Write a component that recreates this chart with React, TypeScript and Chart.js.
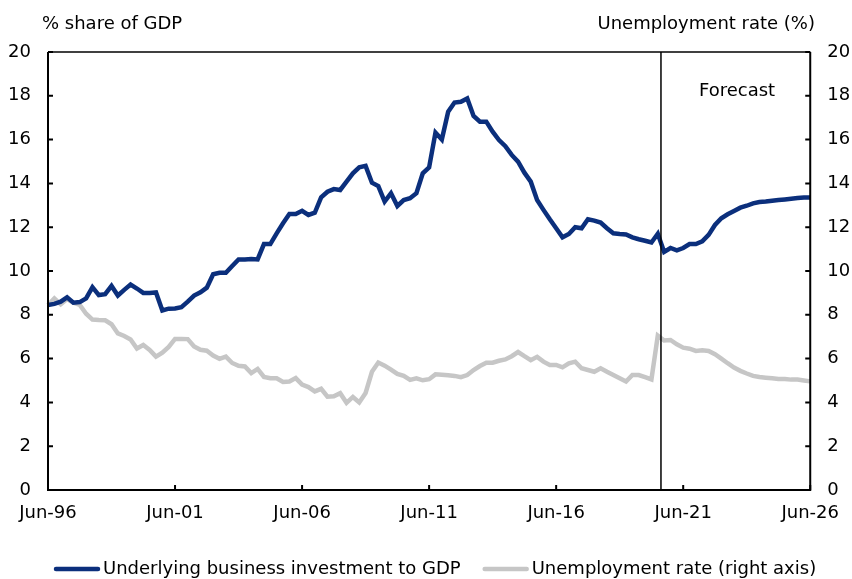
import React, { useEffect, useRef } from 'react';
import { Chart, registerables } from 'chart.js';

Chart.register(...registerables);

const FONT = '"DejaVu Sans", Verdana, sans-serif';
const BLUE = '#0b2f7c';
const GREY = '#c6c6c6';

// quarterly categories Jun-96 .. Jun-26
const months = ['Mar', 'Jun', 'Sep', 'Dec'];
const quarters: string[] = [];
for (let y = 1996; y <= 2026; y++) {
  for (const m of months) {
    if (y === 1996 && m === 'Mar') continue;
    if (y === 2026 && (m === 'Sep' || m === 'Dec')) continue;
    quarters.push(`${m}-${String(y % 100).padStart(2, '0')}`);
  }
}

const lastActual = 'Jun-20';
const firstForecast = 'Sep-20';

// % share of GDP
const investment = [
  8.45, 8.5, 8.6, 8.8, 8.55, 8.58, 8.75, 9.26, 8.9, 8.94,
  9.32, 8.88, 9.14, 9.38, 9.2, 9.0, 9.0, 9.02, 8.2, 8.28,
  8.29, 8.35, 8.6, 8.88, 9.03, 9.24, 9.85, 9.92, 9.92, 10.23,
  10.53, 10.53, 10.55, 10.53, 11.23, 11.23, 11.72, 12.18, 12.6, 12.6,
  12.75, 12.56, 12.66, 13.36, 13.62, 13.74, 13.7, 14.08, 14.46, 14.73,
  14.8, 14.03, 13.88, 13.17, 13.55, 12.97, 13.24, 13.32, 13.55, 14.46,
  14.73, 16.32, 16.0, 17.27, 17.69, 17.73, 17.88, 17.08, 16.82, 16.82,
  16.36, 15.98, 15.7, 15.3, 14.99, 14.49, 14.08, 13.24, 12.79, 12.36,
  11.95, 11.54, 11.69, 12.0, 11.95, 12.36, 12.3, 12.21, 11.95, 11.72,
  11.69, 11.67, 11.54, 11.45, 11.38, 11.3, 11.7, 10.87, 11.05, 10.94,
  11.05, 11.23, 11.23, 11.35, 11.65, 12.1, 12.41, 12.59, 12.74, 12.89,
  12.98, 13.09, 13.15, 13.17, 13.21, 13.24, 13.27, 13.3, 13.33, 13.36,
  13.36,
];

// unemployment rate, %
const unemployment = [
  8.45, 8.75, 8.48, 8.72, 8.55, 8.45, 8.05, 7.78, 7.76, 7.75,
  7.57, 7.15, 7.03, 6.87, 6.46, 6.62, 6.4, 6.09, 6.27, 6.53,
  6.9, 6.9, 6.89, 6.55, 6.4, 6.36, 6.14, 5.99, 6.09, 5.8,
  5.67, 5.64, 5.34, 5.53, 5.16, 5.1, 5.1, 4.93, 4.95, 5.11,
  4.81, 4.7, 4.5, 4.62, 4.26, 4.28, 4.42, 3.98, 4.25, 4.0,
  4.43, 5.4, 5.82, 5.68, 5.5, 5.3, 5.21, 5.03, 5.1, 5.01,
  5.06, 5.28, 5.26, 5.24, 5.21, 5.15, 5.25, 5.48, 5.66, 5.81,
  5.81, 5.9, 5.96, 6.11, 6.3, 6.11, 5.93, 6.08, 5.86, 5.71,
  5.71, 5.6, 5.78, 5.86, 5.56, 5.48, 5.4, 5.56, 5.4, 5.25,
  5.1, 4.95, 5.25, 5.25, 5.15, 5.05, 7.05, 6.83, 6.85, 6.65,
  6.5, 6.45, 6.35, 6.38, 6.35, 6.2, 6.0, 5.79, 5.59, 5.44,
  5.32, 5.21, 5.16, 5.13, 5.1, 5.07, 5.07, 5.04, 5.04, 5.0,
  4.96,
];

const seriesLabels = ['Underlying business investment to GDP', 'Unemployment rate (right axis)'];

// draws the box, inward ticks, forecast divider, axis titles and legend
const decorations = {
  id: 'decorations',
  afterDatasetsDraw(chart: any) {
    const { ctx, chartArea: a, scales } = chart;
    ctx.save();
    ctx.strokeStyle = '#000';

    // forecast divider
    const fx = (scales.x.getPixelForValue(quarters.indexOf(lastActual)) +
      scales.x.getPixelForValue(quarters.indexOf(firstForecast))) / 2;
    ctx.lineWidth = 1.5;
    ctx.beginPath();
    ctx.moveTo(fx, a.top);
    ctx.lineTo(fx, a.bottom);
    ctx.stroke();

    // frame
    ctx.lineWidth = 1.5;
    ctx.beginPath();
    ctx.moveTo(a.left, a.top);
    ctx.lineTo(a.right, a.top);
    ctx.stroke();
    ctx.lineWidth = 2;
    ctx.beginPath();
    ctx.moveTo(a.left, a.top);
    ctx.lineTo(a.left, a.bottom);
    ctx.lineTo(a.right, a.bottom);
    ctx.lineTo(a.right, a.top);
    ctx.stroke();

    // inward tick marks
    const tl = 5;
    ctx.beginPath();
    scales.y.ticks.forEach((t: any) => {
      const py = scales.y.getPixelForValue(t.value);
      ctx.moveTo(a.left, py);
      ctx.lineTo(a.left + tl, py);
    });
    scales.y1.ticks.forEach((t: any) => {
      const py = scales.y1.getPixelForValue(t.value);
      ctx.moveTo(a.right, py);
      ctx.lineTo(a.right - tl, py);
    });
    scales.x.ticks.forEach((t: any) => {
      const px = scales.x.getPixelForValue(t.value);
      ctx.moveTo(px, a.bottom);
      ctx.lineTo(px, a.bottom - tl);
    });
    ctx.stroke();

    // text
    ctx.fillStyle = '#000';
    ctx.font = `18px ${FONT}`;
    ctx.textBaseline = 'alphabetic';
    ctx.textAlign = 'left';
    ctx.fillText('% share of GDP', 42, 29);
    ctx.fillText('Forecast', 699, 96);
    ctx.textAlign = 'right';
    ctx.fillText('Unemployment rate (%)', 815, 29);

    // legend
    const colors = [BLUE, GREY];
    const swatchW = 46;
    const gap = 3;
    const itemGap = 22;
    let x = 54;
    const ly = 569;
    ctx.textAlign = 'left';
    ctx.textBaseline = 'middle';
    seriesLabels.forEach((l, i) => {
      ctx.strokeStyle = colors[i];
      ctx.lineWidth = 4.5;
      ctx.lineCap = 'round';
      ctx.beginPath();
      ctx.moveTo(x + 2, ly);
      ctx.lineTo(x + swatchW - 2, ly);
      ctx.stroke();
      ctx.fillText(l, x + swatchW + gap, ly);
      x += swatchW + gap + ctx.measureText(l).width + itemGap;
    });
    ctx.restore();
  },
};

const App: React.FC = () => {
  const canvasRef = useRef<HTMLCanvasElement>(null);
  const chartInstance = useRef<Chart | null>(null);

  useEffect(() => {
    if (!canvasRef.current) return;
    if (chartInstance.current) chartInstance.current.destroy();

    const tickFont = { family: FONT, size: 18 };

    chartInstance.current = new Chart(canvasRef.current, {
      type: 'line',
      data: {
        labels: quarters,
        datasets: [
          {
            label: seriesLabels[0],
            data: investment,
            borderColor: BLUE,
            borderWidth: 4.5,
            pointRadius: 0,
            tension: 0,
            yAxisID: 'y',
          },
          {
            label: seriesLabels[1],
            data: unemployment,
            borderColor: GREY,
            borderWidth: 4.5,
            pointRadius: 0,
            tension: 0,
            yAxisID: 'y1',
          },
        ],
      },
      options: {
        responsive: true,
        maintainAspectRatio: false,
        animation: false,
        layout: { padding: { top: 52, left: 0, right: 0, bottom: 0 } },
        plugins: {
          legend: { display: false },
          tooltip: { enabled: false },
        },
        scales: {
          x: {
            offset: false,
            grid: { display: false, drawTicks: false },
            border: { display: false },
            afterBuildTicks: (axis: any) => {
              axis.ticks = axis.ticks.filter((t: any) => t.value % 20 === 0);
            },
            afterFit: (axis: any) => {
              axis.height = 89;
            },
            ticks: {
              autoSkip: false,
              maxRotation: 0,
              padding: 13,
              color: '#000',
              font: tickFont,
            },
          },
          y: {
            position: 'left',
            min: 0,
            max: 20,
            grid: { display: false, drawTicks: false },
            border: { display: false },
            afterFit: (axis: any) => {
              axis.width = 48;
            },
            ticks: { stepSize: 2, padding: 17, color: '#000', font: tickFont },
          },
          y1: {
            position: 'right',
            min: 0,
            max: 20,
            grid: { display: false, drawTicks: false },
            border: { display: false },
            afterFit: (axis: any) => {
              axis.width = 39;
            },
            ticks: { stepSize: 2, padding: 17, color: '#000', font: tickFont },
          },
        },
      },
      plugins: [decorations],
    });

    return () => {
      if (chartInstance.current) {
        chartInstance.current.destroy();
        chartInstance.current = null;
      }
    };
  }, []);

  return (
    <div style={{ position: 'fixed', left: 0, top: 0, width: 852, height: 579, background: '#fff' }}>
      <canvas ref={canvasRef} />
    </div>
  );
};

export default App;
